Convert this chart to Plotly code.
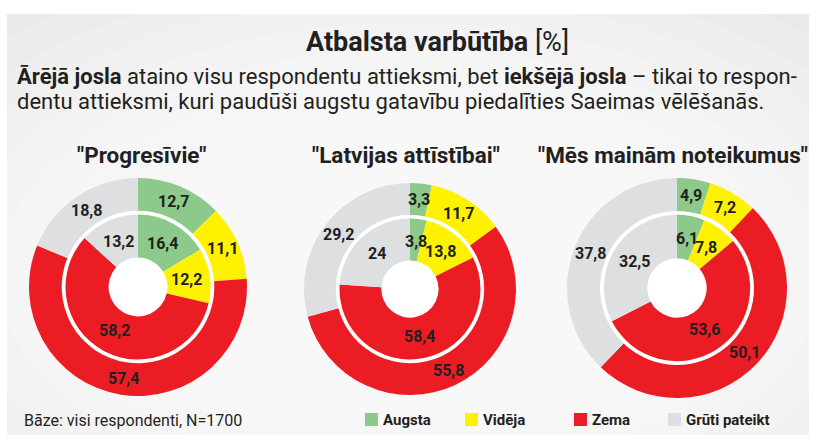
import math
import plotly.graph_objects as go

W, H = 820, 448
FONT = "Roboto, Liberation Sans, sans-serif"
DARK = "#231f20"

categories = ["Augsta", "Vidēja", "Zema", "Grūti pateikt"]
colors = ["#8dc98b", "#fff200", "#ec1c24", "#dedfe0"]

parties = ['"Progresīvie"', '"Latvijas attīstībai"', '"Mēs mainām noteikumus"']

# ārējā josla = visi respondenti, iekšējā = augsta gatavība piedalīties
progresivie_outer = [12.7, 11.1, 57.4, 18.8]
progresivie_inner = [16.4, 12.2, 58.2, 13.2]
la_outer = [3.3, 11.7, 55.8, 29.2]
la_inner = [3.8, 13.8, 58.4, 24]
mmn_outer = [4.9, 7.2, 50.1, 37.8]
mmn_inner = [6.1, 7.8, 53.6, 32.5]

outer_sets = [progresivie_outer, la_outer, mmn_outer]
inner_sets = [progresivie_inner, la_inner, mmn_inner]

# pixel geometry of each donut: centre and outer radius
centers = [(138, 287), (410, 289), (677, 288)]
radii = [109, 106, 110]
title_x = [142, 406, 673]
GAP = 0.70      # outer ring inner edge (white circle)
INNER = 0.665   # inner ring outer edge
HOLE = 0.27     # inner ring hole


def px(x):
    return x / W


def py(y):
    return 1 - y / H


def fmt(v):
    return f"{v:g}".replace(".", ",")


def text(x, y, s, size, xanchor="center"):
    return dict(x=px(x), y=py(y), xref="paper", yref="paper", showarrow=False,
                xanchor=xanchor, yanchor="middle", text=s,
                font=dict(family=FONT, size=size, color=DARK))


def ellipse(cx, cy, a, b, color, opacity=1.0):
    return dict(type="circle", xref="paper", yref="paper",
                x0=px(cx - a), x1=px(cx + a), y0=py(cy + b), y1=py(cy - b),
                fillcolor=color, opacity=opacity, line_width=0, layer="below")


fig = go.Figure()
shapes = [dict(type="rect", xref="paper", yref="paper",
               x0=px(7), x1=px(809), y0=py(435), y1=py(14),
               fillcolor="#e9e9e9", line_width=0, layer="below")]
# soft light centre of the panel (stacked translucent ellipses)
for k in range(8):
    shapes.append(ellipse(410, 275, 580 - 42 * k, 330 - 26 * k, "white", 0.16))

annotations = []

for i, (cx, cy) in enumerate(centers):
    R = radii[i]
    r_in = R * INNER
    fig.add_trace(go.Pie(
        labels=categories, values=outer_sets[i], sort=False,
        direction="clockwise", rotation=0, hole=GAP,
        marker=dict(colors=colors, line=dict(width=0)),
        textinfo="none", hoverinfo="label+value", showlegend=False,
        domain=dict(x=[px(cx - R), px(cx + R)], y=[py(cy + R), py(cy - R)]),
    ))
    fig.add_trace(go.Pie(
        labels=categories, values=inner_sets[i], sort=False,
        direction="clockwise", rotation=0, hole=HOLE / INNER,
        marker=dict(colors=colors, line=dict(width=0)),
        textinfo="none", hoverinfo="label+value", showlegend=False,
        domain=dict(x=[px(cx - r_in), px(cx + r_in)], y=[py(cy + r_in), py(cy - r_in)]),
    ))
    rg = R * GAP
    shapes.append(ellipse(cx, cy, rg, rg, "white"))

    # value labels at the middle of each slice
    for vals, r_lab in ((outer_sets[i], R * 0.85), (inner_sets[i], R * 0.455)):
        total = sum(vals)
        cum = 0
        for v in vals:
            ang = 2 * math.pi * (cum + v / 2) / total
            cum += v
            annotations.append(text(cx + r_lab * math.sin(ang), cy - r_lab * math.cos(ang),
                                    f"<b>{fmt(v)}</b>", 16))

    annotations.append(text(title_x[i], 155, f"<b>{parties[i]}</b>", 22.5))

annotations.append(text(437, 42, "<b>Atbalsta varbūtība</b> [%]", 27))
annotations.append(text(15, 76, "<b>Ārējā josla</b> ataino visu respondentu attieksmi, bet "
                                "<b>iekšējā josla</b> – tikai to respon-", 22, "left"))
annotations.append(text(15, 101, "dentu attieksmi, kuri paudūši augstu gatavību "
                                 "piedalīties Saeimas vēlēšanās.", 22, "left"))
annotations.append(text(22, 420, "Bāze: visi respondenti, N=1700", 16, "left"))

# legend drawn by hand to match the compact spacing
legend_x = [365, 465, 574, 668]
for lx, name, col in zip(legend_x, categories, colors):
    shapes.append(dict(type="rect", xref="paper", yref="paper",
                       x0=px(lx), x1=px(lx + 13), y0=py(426), y1=py(413),
                       fillcolor=col, line_width=0))
    annotations.append(text(lx + 16, 420, f"<b>{name}</b>", 15, "left"))

fig.update_layout(
    width=W, height=H,
    margin=dict(l=0, r=0, t=0, b=0),
    paper_bgcolor="white", plot_bgcolor="white",
    shapes=shapes, annotations=annotations,
    showlegend=False,
)

fig.write_html("out.html", config={"displayModeBar": False},
               post_script="document.body.style.margin = '0';")
